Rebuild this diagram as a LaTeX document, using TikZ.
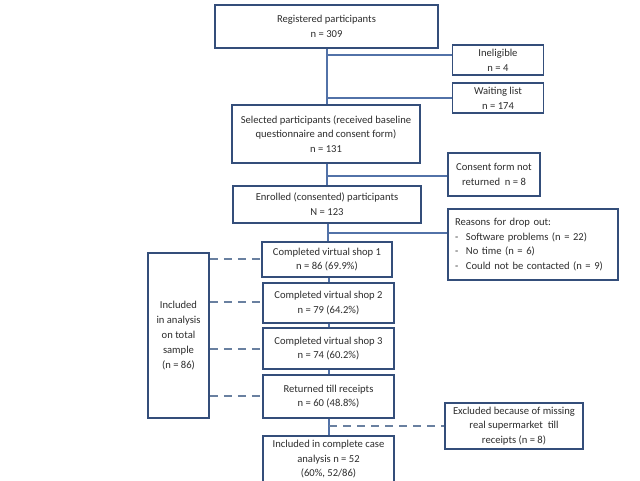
\documentclass[tikz,border=0pt]{standalone}
\usepackage{fontspec}
\setmainfont{Carlito}
\definecolor{boxc}{RGB}{52,78,122}
\definecolor{linec}{RGB}{82,114,168}
\definecolor{dashc}{RGB}{105,128,160}
\definecolor{txtc}{RGB}{45,45,45}
\tikzset{
  box/.style={draw=boxc, line width=1.6pt, fill=white, align=center, inner sep=0pt, text=txtc,
    font=\fontsize{10.6}{14.8}\selectfont},
  conn/.style={draw=linec, line width=1.4pt},
  dconn/.style={draw=dashc, line width=1.8pt, dash pattern=on 8pt off 6pt},
}
\begin{document}
\begin{tikzpicture}[x=1pt,y=-1pt]
\useasboundingbox[fill=white] (0,0) rectangle (640,480);
\coordinate (s1) at (327,48);
\coordinate (b1) at (327,55);
\coordinate (b2) at (327,98);
\coordinate (s3) at (327,163);
\coordinate (b3) at (327,176);
\coordinate (s5) at (328,223);
\coordinate (b4) at (328,233);
\coordinate (b5) at (329,426);

\node[box, minimum width=223pt, minimum height=43pt] (reg) at (326.5,26.5) {Registered participants\\n = 309};
\node[box, minimum width=91pt, minimum height=30pt] (inel) at (498,60) {Ineligible\\n = 4};
\node[box, minimum width=91pt, minimum height=30pt] (wait) at (498,98) {Waiting list\\n = 174};
\node[box, minimum width=188pt, minimum height=58pt] (sel) at (326,134) {Selected participants (received baseline\\questionnaire and consent form)\\n = 131};
\node[box, minimum width=92pt, minimum height=43pt] (cons) at (494,174.5) {Consent form not\\returned\ \ n = 8};
\node[box, minimum width=188pt, minimum height=37pt] (enr) at (327,204.5) {Enrolled (consented) participants\\N = 123};
\node[box, minimum width=170pt, minimum height=71pt, text width=156pt, align=left] (reas) at (533,244.5)
  {Reasons for drop out:\\
   \makebox[11pt][l]{-}Software problems (n = 22)\\
   \makebox[11pt][l]{-}No time (n = 6)\\
   \makebox[11pt][l]{-}Could not be contacted (n = 9)};
\node[box, minimum width=130pt, minimum height=35pt] (v1) at (327,259.5) {Completed virtual shop 1\\n = 86 (69.9\%)};
\node[box, minimum width=131pt, minimum height=40pt] (v2) at (328.5,303) {Completed virtual shop 2\\n = 79 (64.2\%)};
\node[box, minimum width=131pt, minimum height=41pt] (v3) at (328.5,348.5) {Completed virtual shop 3\\n = 74 (60.2\%)};
\node[box, minimum width=131pt, minimum height=43pt] (ret) at (328.5,396.5) {Returned till receipts\\n = 60 (48.8\%)};
\node[box, minimum width=131pt, minimum height=47pt, anchor=north, font=\fontsize{10.6}{14.5}\selectfont] (cc) at (328.5,435) {Included in complete case\\analysis n = 52\\(60\%, 52/86)};
\node[box, minimum width=61pt, minimum height=165pt] (tot) at (178.5,335.5) {Included\\in analysis\\on total\\sample\\(n = 86)};
\node[box, minimum width=138pt, minimum height=46pt] (exc) at (514,426) {Excluded because of missing\\real supermarket\ \ till\\receipts (n = 8)};

% spine
\draw[conn] (reg.south -| s1) -- (sel.north -| s1);
\draw[conn] (b1) -- (b1 -| inel.west);
\draw[conn] (b2) -- (b2 -| wait.west);
\draw[conn] (sel.south -| s3) -- (enr.north -| s3);
\draw[conn] (b3) -- (b3 -| cons.west);
\draw[conn] (enr.south -| s5) -- (v1.north -| s5);
\draw[conn] (b4) -- (b4 -| reas.west);
\draw[conn] (v1.south -| b5) -- (v2.north -| b5);
\draw[conn] (v2.south -| b5) -- (v3.north -| b5);
\draw[conn] (v3.south -| b5) -- (ret.north -| b5);
\draw[conn] (ret.south -| b5) -- (cc.north -| b5);
% dashed
\draw[dconn] (tot.east |- 0,259) -- (v1.west |- 0,259);
\draw[dconn] (tot.east |- 0,302) -- (v2.west |- 0,302);
\draw[dconn] (tot.east |- 0,349) -- (v3.west |- 0,349);
\draw[dconn] (tot.east |- 0,396) -- (ret.west |- 0,396);
\draw[dconn] (b5) -- (b5 -| exc.west);
\end{tikzpicture}
\end{document}
